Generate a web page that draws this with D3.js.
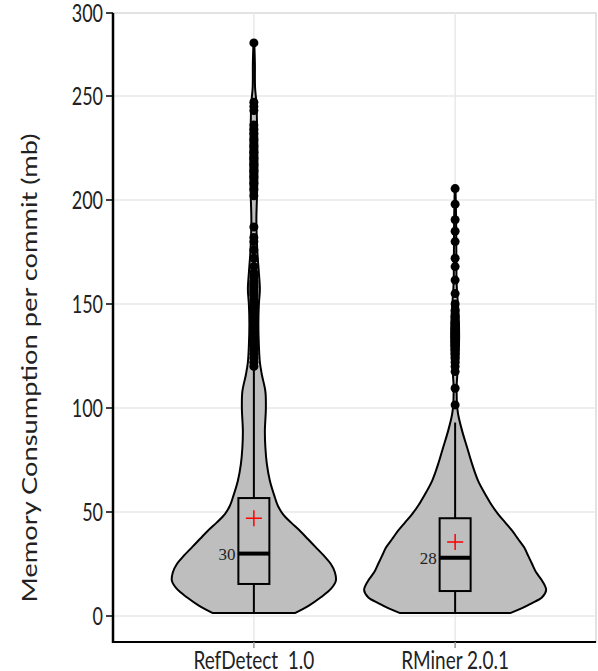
<!DOCTYPE html>
<html>
<head>
<meta charset="utf-8">
<script src="https://cdn.jsdelivr.net/npm/d3@7"></script>
<style>
  body { margin: 0; background: #fff; }
  svg { display: block; }
</style>
</head>
<body>
<div id="chart"></div>
<script>
// groups and summary stats (mb)
var groups = ['RefDetect  1.0', 'RMiner 2.0.1'];
var q1 = [15.4, 12];
var medians = [30, 28];
var q3 = [56.7, 47];
var whiskLo = [1.4, 1.4];
var whiskHi = [119, 93];
var means = [47, 35.6];
var medianLabels = ['30', '28'];
var yTicks = [0, 50, 100, 150, 200, 250, 300];

// violin profiles: [value, density]
var densRef = [[1.4,0.41],[5,0.55],[9,0.67],[13,0.77],[17,0.82],[21,0.81],[25,0.77],[29,0.7],[33,0.62],[37,0.54],[41,0.46],[45,0.37],[49,0.29],[53,0.24],[57,0.21],[65,0.16],[73,0.13],[81,0.115],[89,0.11],[100,0.12],[108,0.115],[116,0.08],[122,0.06],[130,0.05],[140,0.045],[150,0.05],[157,0.06],[165,0.05],[175,0.035],[190,0.025],[200,0.03],[210,0.035],[225,0.035],[240,0.03],[247,0.025],[255,0.012],[270,0.01],[282,0.004]];
var densRM = [[1.4,0.55],[4,0.68],[6,0.76],[9,0.87],[12.5,0.91],[17,0.87],[21,0.81],[25,0.77],[29,0.73],[33,0.69],[37,0.63],[41,0.57],[45,0.5],[49,0.43],[53,0.37],[57,0.32],[65,0.23],[73,0.17],[81,0.12],[89,0.07],[97,0.03],[101,0.02],[110,0.015],[118,0.025],[125,0.035],[135,0.04],[145,0.035],[152,0.025],[160,0.015],[175,0.012],[190,0.01],[205.5,0.004]];
var densities = [densRef, densRM];

// outliers
var outRef = [282,247,245,243,236,234,232,229,226,223,220,217,214,211,208,205,202,187,182,180,176,172,168,165,163,161,160,159,158,157,156,155,154,152,150,148,146,144,142,140,138,136,134,132,130,128,126,124,122,120];
var outRM = [205.5,198,190.5,185,180,172,168,161.5,155,150,147,144,141,138,136,134,132,130,128,126,124,122,120,117.5,109.5,101.5];
var outliers = [outRef, outRM];

var W = 598, H = 671;
var padL = 113, padR = 596, padT = 13, padB = 642;
var stretch = 1.4;

var svg = d3.select('#chart').append('svg').attr('width', W).attr('height', H);

var x = d3.scalePoint().domain(groups).range([padL, padR]).padding(0.7);
// top band (250-300) is compressed in the original figure
var y = d3.scaleLinear().domain([-12.5, 250, 300]).range([padB, 96, padT]);
var w = d3.scaleLinear().domain([0, 1]).range([0, 100]);

// panel border + grid
svg.append('rect').attr('x', padL).attr('y', padT).attr('width', padR - padL).attr('height', padB - padT)
  .attr('fill', 'none').attr('stroke', '#d9d9d9').attr('stroke-width', 1.5);
svg.selectAll('.hgrid').data(yTicks.slice(0, -1)).enter().append('line')
  .attr('x1', padL).attr('x2', padR).attr('y1', function(d){return y(d);}).attr('y2', function(d){return y(d);})
  .attr('stroke', '#e8e8e8').attr('stroke-width', 1.5);
svg.selectAll('.vgrid').data(groups).enter().append('line')
  .attr('x1', function(d){return x(d);}).attr('x2', function(d){return x(d);}).attr('y1', padT).attr('y2', padB)
  .attr('stroke', '#e8e8e8').attr('stroke-width', 1.5);

// violins
var area = d3.area()
  .curve(d3.curveCatmullRom.alpha(0.5))
  .y(function(d){return y(d[0]);});
groups.forEach(function(g, i) {
  var cx = x(g);
  area.x0(function(d){return cx - w(d[1]);}).x1(function(d){return cx + w(d[1]);});
  svg.append('path').datum(densities[i]).attr('d', area)
    .attr('fill', '#bebebe').attr('stroke', '#000').attr('stroke-width', 2);
});

// boxplots
var bw = 31;
groups.forEach(function(g, i) {
  var cx = x(g);
  svg.append('line').attr('x1', cx).attr('x2', cx).attr('y1', y(whiskLo[i])).attr('y2', y(q1[i]))
    .attr('stroke', '#000').attr('stroke-width', 2);
  svg.append('line').attr('x1', cx).attr('x2', cx).attr('y1', y(q3[i])).attr('y2', y(whiskHi[i]))
    .attr('stroke', '#000').attr('stroke-width', 2);
  svg.append('rect').attr('x', cx - bw / 2).attr('y', y(q3[i])).attr('width', bw).attr('height', y(q1[i]) - y(q3[i]))
    .attr('fill', '#bebebe').attr('stroke', '#000').attr('stroke-width', 2);
  svg.append('line').attr('x1', cx - bw / 2).attr('x2', cx + bw / 2).attr('y1', y(medians[i])).attr('y2', y(medians[i]))
    .attr('stroke', '#000').attr('stroke-width', 4);
  svg.selectAll('.out' + i).data(outliers[i]).enter().append('circle')
    .attr('cx', cx).attr('cy', function(d){return y(d);}).attr('r', 4.5).attr('fill', '#000');
  var my = y(means[i]);
  svg.append('path').attr('d', 'M' + (cx - 8) + ',' + my + 'H' + (cx + 8) + 'M' + cx + ',' + (my - 8) + 'V' + (my + 8))
    .attr('stroke', '#ff0000').attr('stroke-width', 1.5);
  svg.append('text').attr('x', cx - bw / 2 - 3).attr('y', y(medians[i])).attr('dy', '0.35em')
    .attr('text-anchor', 'end').attr('font-family', 'Liberation Serif, serif').attr('font-size', 17)
    .attr('fill', '#222').text(medianLabels[i]);
});

// axes lines
svg.append('line').attr('x1', padL).attr('x2', padL).attr('y1', padT).attr('y2', padB + 1)
  .attr('stroke', '#000').attr('stroke-width', 2.5);
svg.append('line').attr('x1', padL - 1).attr('x2', padR).attr('y1', padB).attr('y2', padB)
  .attr('stroke', '#000').attr('stroke-width', 2);

// y ticks
var yt = svg.selectAll('.ytick').data(yTicks).enter().append('g');
yt.append('line').attr('x1', padL - 7).attr('x2', padL).attr('y1', function(d){return y(d);}).attr('y2', function(d){return y(d);})
  .attr('stroke', '#000').attr('stroke-width', 1.5);
yt.append('text')
  .attr('transform', function(d){return 'translate(' + (padL - 10) + ',' + y(d) + ') scale(1,' + stretch + ')';})
  .attr('dy', '0.35em').attr('text-anchor', 'end')
  .attr('font-family', 'Lato, sans-serif').attr('font-size', 18).attr('fill', '#222')
  .text(function(d){return d;});

// x ticks
var xt = svg.selectAll('.xtick').data(groups).enter().append('g');
xt.append('line').attr('x1', function(d){return x(d);}).attr('x2', function(d){return x(d);})
  .attr('y1', padB).attr('y2', padB + 6).attr('stroke', '#999').attr('stroke-width', 1.5);
xt.append('text')
  .attr('transform', function(d){return 'translate(' + x(d) + ',' + 660 + ') scale(1,1.3)';})
  .attr('dy', '0.35em').attr('text-anchor', 'middle').style('white-space', 'pre')
  .attr('font-family', 'Lato, sans-serif').attr('font-size', 19).attr('fill', '#222')
  .text(function(d){return d;});

// y axis title
svg.append('text')
  .attr('transform', 'translate(30,368) scale(1,1.3) rotate(-90)')
  .attr('dy', '0.35em').attr('text-anchor', 'middle')
  .attr('font-family', 'Lato, sans-serif').attr('font-size', 21).attr('fill', '#222')
  .text('Memory Consumption per commit (mb)');
</script>
</body>
</html>
